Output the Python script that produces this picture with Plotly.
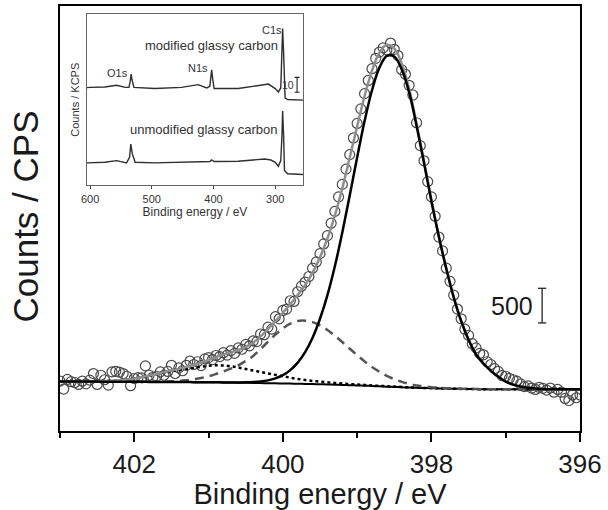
import numpy as np
import plotly.graph_objects as go

# ---------------- N1s high-resolution scan (main panel) ----------------
# measured points, 0.05 eV step from 403.00 down to 396.00 eV
scan_start, scan_stop = 403.0, 396.0
counts = [
    720, 605, 745, 712, 700, 672, 719, 680, 734, 829,
    672, 805, 740, 662, 854, 862, 850, 829, 790, 654,
    758, 770, 768, 940, 805, 775, 790, 854, 805, 860,
    948, 830, 911, 870, 948, 1010, 960, 1000, 945, 1040,
    1060, 1030, 1090, 1075, 1130, 1095, 1160, 1120, 1200, 1180,
    1250, 1230, 1300, 1290, 1400, 1390, 1500, 1470, 1650, 1620,
    1740, 1760, 1880, 1870, 2010, 2090, 2150, 2230, 2350, 2440,
    2560, 2700, 2820, 3000, 3170, 3380, 3560, 3780, 3990, 4230,
    4440, 4650, 4870, 5060, 5230, 5380, 5470, 5530, 5500, 5600,
    5510, 5420, 5215, 5150, 4990, 4850, 4450, 4120, 3900, 3600,
    3380, 3100, 2800, 2600, 2350, 2160, 1960, 1760, 1620, 1470,
    1380, 1260, 1200, 1120, 1100, 1000, 960, 900, 860, 800,
    790, 760, 740, 720, 680, 640, 650, 620, 600, 630,
    615, 590, 620, 560, 600, 560, 470, 440, 520, 480,
    520,
]

# fit curves, 0.1 eV step from 403.0 down to 396.0 eV
background = [
    715, 715, 714, 714, 713, 713, 712, 712, 711, 711,
    711, 710, 709, 709, 708, 707, 706, 706, 705, 704,
    704, 703, 701, 700, 698, 696, 694, 692, 690, 688,
    686, 684, 682, 679, 677, 675, 672, 668, 665, 661,
    658, 654, 649, 645, 640, 636, 631, 627, 623, 620,
    618, 615, 613, 610, 608, 606, 605, 604, 603, 603,
    602, 602, 601, 601, 601, 601, 601, 601, 601, 601,
    601,
]
peak_main = [
    0, 0, 0, 0, 0, 0, 0, 0, 0, 0,
    0, 0, 0, 0, 0, 0, 0, 0, 0, 0,
    0, 0, 0, 1, 3, 6, 12, 23, 41, 72,
    120, 195, 305, 460, 670, 945, 1290, 1710, 2200, 2740,
    3290, 3820, 4270, 4600, 4775, 4770, 4590, 4260, 3780, 3250,
    2700, 2190, 1730, 1320, 980, 710, 500, 370, 265, 180,
    112, 68, 40, 22, 12, 6, 3, 1, 0, 0,
    0,
]
peak_dashed = [
    0, 0, 0, 0, 0, 0, 0, 0, 0, 0,
    0, 1, 2, 3, 6, 10, 16, 26, 40, 60,
    85, 120, 160, 200, 250, 315, 390, 490, 598, 703,
    795, 866, 906, 913, 894, 850, 787, 708, 619, 527,
    436, 351, 275, 210, 155, 112, 78, 53, 35, 23,
    14, 9, 5, 3, 2, 1, 0, 0, 0, 0,
    0, 0, 0, 0, 0, 0, 0, 0, 0, 0,
    0,
]
peak_dotted = [
    0, 0, 1, 2, 4, 6, 9, 14, 22, 32,
    48, 66, 88, 112, 136, 155, 175, 192, 208, 222,
    236, 245, 243, 234, 218, 199, 179, 160, 141, 122,
    104, 86, 70, 56, 46, 38, 30, 25, 20, 16,
    13, 11, 9, 7, 6, 5, 4, 3, 2, 2,
    1, 1, 0, 0, 0, 0, 0, 0, 0, 0,
    0, 0, 0, 0, 0, 0, 0, 0, 0, 0,
    0,
]

scan_energy = np.round(np.linspace(scan_start, scan_stop, len(counts)), 2)
fit_energy = np.round(np.linspace(scan_start, scan_stop, len(background)), 2)
bg = np.array(background, dtype=float)
main_fit = bg + np.array(peak_main)
dashed_fit = bg + np.array(peak_dashed)
dotted_fit = bg + np.array(peak_dotted)
envelope = bg + np.array(peak_main) + np.array(peak_dashed) + np.array(peak_dotted)

# ---------------- survey spectra (inset), counts in KCPS ----------------
modified_energy = [605, 600, 576, 557, 543, 537, 535, 533.5, 532, 529, 495, 452,
                   425, 411, 406, 404.5, 403, 401.5, 399, 360, 333, 322, 311,
                   300, 295, 291, 289, 288, 286.5, 285, 284, 280, 255]
modified_kcps = [65.6, 65.8, 66.0, 67.2, 65.8, 65.8, 69.8, 74.7, 70.9, 65.8, 65.0, 65.8,
                 67.6, 65.4, 66.5, 72.0, 77.6, 72.0, 65.0, 65.0, 66.5, 67.6, 68.0,
                 65.0, 62.7, 65.4, 89.8, 105.3, 89.8, 65.4, 58.7, 57.6, 57.2]
unmodified_energy = [605, 600, 576, 557, 541, 536, 534, 531.5, 527, 495, 441, 406,
                     403, 399, 360, 327, 317, 307, 300, 295, 291, 289, 288, 286.5,
                     285, 280, 255]
unmodified_kcps = [15.1, 15.1, 15.5, 16.6, 15.1, 18.8, 27.7, 21.1, 15.5, 15.1, 15.5, 16.0,
                   17.1, 16.0, 16.2, 17.1, 17.7, 17.0, 15.5, 12.8, 16.6, 34.4, 49.9, 34.4,
                   10.0, 7.8, 7.3]

FONT = "Liberation Sans, Arial, sans-serif"
INK = "#333333"

fig = go.Figure()

# main panel
fig.add_trace(go.Scatter(
    x=scan_energy, y=counts, mode="markers", name="data",
    marker=dict(symbol="circle-open", size=10, color="#4a4a4a", line=dict(width=1.2)),
))
fig.add_trace(go.Scatter(x=fit_energy, y=bg, mode="lines", name="background",
                         line=dict(color="black", width=2, shape="spline")))
fig.add_trace(go.Scatter(x=fit_energy, y=dotted_fit, mode="lines", name="component 3",
                         line=dict(color="black", width=2.5, dash="dot", shape="spline")))
fig.add_trace(go.Scatter(x=fit_energy, y=dashed_fit, mode="lines", name="component 2",
                         line=dict(color="#555555", width=2.5, dash="9px,6px", shape="spline")))
fig.add_trace(go.Scatter(x=fit_energy, y=envelope, mode="lines", name="envelope",
                         line=dict(color="#8e8e8e", width=2.5, shape="spline")))
fig.add_trace(go.Scatter(x=fit_energy, y=main_fit, mode="lines", name="component 1",
                         line=dict(color="black", width=2.5, shape="spline")))

# inset survey spectra
fig.add_trace(go.Scatter(x=modified_energy, y=modified_kcps, mode="lines", name="modified",
                         xaxis="x2", yaxis="y2", line=dict(color="#2e2e2e", width=1.4)))
fig.add_trace(go.Scatter(x=unmodified_energy, y=unmodified_kcps, mode="lines", name="unmodified",
                         xaxis="x2", yaxis="y2", line=dict(color="#2e2e2e", width=1.4)))

# scale bars: 500 CPS (main) and 10 KCPS (inset)
bar_main_x, bar_main_y0, bar_main_len = 396.51, 1560, 500
bar_main_cap = 0.055
bar_inset_x, bar_inset_y0, bar_inset_len = 264.6, 62.5, 10
bar_inset_cap = 4.0
shapes = []
for xr, yr, x0, y0, ln, cap, w in [
    ("x", "y", bar_main_x, bar_main_y0, bar_main_len, bar_main_cap, 1.3),
    ("x2", "y2", bar_inset_x, bar_inset_y0, bar_inset_len, bar_inset_cap, 1.1),
]:
    line = dict(color="#222222", width=w)
    shapes.append(dict(type="line", xref=xr, yref=yr, x0=x0, x1=x0, y0=y0, y1=y0 + ln, line=line))
    shapes.append(dict(type="line", xref=xr, yref=yr, x0=x0 - cap, x1=x0 + cap, y0=y0, y1=y0, line=line))
    shapes.append(dict(type="line", xref=xr, yref=yr, x0=x0 - cap, x1=x0 + cap, y0=y0 + ln, y1=y0 + ln, line=line))

annotations = [
    dict(text="Counts / CPS", xref="paper", yref="paper", x=-0.067, y=0.505,
         xanchor="center", yanchor="middle",
         textangle=-90, showarrow=False, font=dict(size=35, color="#1a1a1a")),
    dict(text="500", xref="x", yref="y", x=396.6, y=bar_main_y0 + bar_main_len / 2,
         xanchor="right", showarrow=False, font=dict(size=25, color="#1a1a1a")),
    dict(text="10", xref="x2", yref="y2", x=bar_inset_x + 2.5, y=bar_inset_y0 + bar_inset_len / 2,
         xanchor="right", showarrow=False, font=dict(size=10.5, color=INK)),
    dict(text="C1s", xref="x2", yref="y2", x=305, y=104.1, showarrow=False,
         font=dict(size=11, color=INK)),
    dict(text="O1s", xref="x2", yref="y2", x=555.6, y=75.5, showarrow=False,
         font=dict(size=11, color=INK)),
    dict(text="N1s", xref="x2", yref="y2", x=424.6, y=78.7, showarrow=False,
         font=dict(size=11, color=INK)),
    dict(text="modified glassy carbon", xref="x2", yref="y2", x=402.9, y=94.2,
         showarrow=False, font=dict(size=13, color=INK)),
    dict(text="unmodified glassy carbon", xref="x2", yref="y2", x=416.5, y=37.7,
         showarrow=False, font=dict(size=13, color=INK)),
]

fig.update_layout(
    width=608, height=510,
    margin=dict(l=60, r=28, t=4, b=77),
    paper_bgcolor="white", plot_bgcolor="white",
    showlegend=False,
    font=dict(family=FONT, color="#1a1a1a"),
    xaxis=dict(
        range=[403, 396], domain=[0, 1],
        tickvals=[402, 400, 398, 396], ticks="outside", ticklen=9, tickwidth=1.5,
        tickcolor="black", tickfont=dict(size=26),
        minor=dict(tickvals=[403, 401, 399, 397], ticks="outside", ticklen=5,
                   tickwidth=1.5, tickcolor="black"),
        showline=True, linecolor="black", linewidth=2, mirror=True,
        showgrid=False, zeroline=False,
        title=dict(text="Binding energy / eV", font=dict(size=29), standoff=6),
    ),
    yaxis=dict(
        range=[0, 6135], domain=[0, 1],
        showticklabels=False, ticks="",
        showline=True, linecolor="black", linewidth=2, mirror=True,
        showgrid=False, zeroline=False,
    ),
    xaxis2=dict(
        domain=[0.0519, 0.4673], anchor="y2", range=[605, 255],
        tickvals=[600, 500, 400, 300], ticks="outside", ticklen=3, tickwidth=1,
        tickcolor="#444444", tickfont=dict(size=11, color=INK),
        showline=True, linecolor="#666666", linewidth=1, mirror=True,
        showgrid=False, zeroline=False,
        title=dict(text="Binding energy / eV", font=dict(size=12, color=INK), standoff=0),
    ),
    yaxis2=dict(
        domain=[0.578, 0.981], anchor="x2", range=[0, 115],
        showticklabels=False, ticks="",
        showline=True, linecolor="#666666", linewidth=1, mirror=True,
        showgrid=False, zeroline=False,
        title=dict(text="Counts / KCPS", font=dict(size=11, color=INK), standoff=4),
    ),
    shapes=shapes,
    annotations=annotations,
)

fig.write_html("out.html")
